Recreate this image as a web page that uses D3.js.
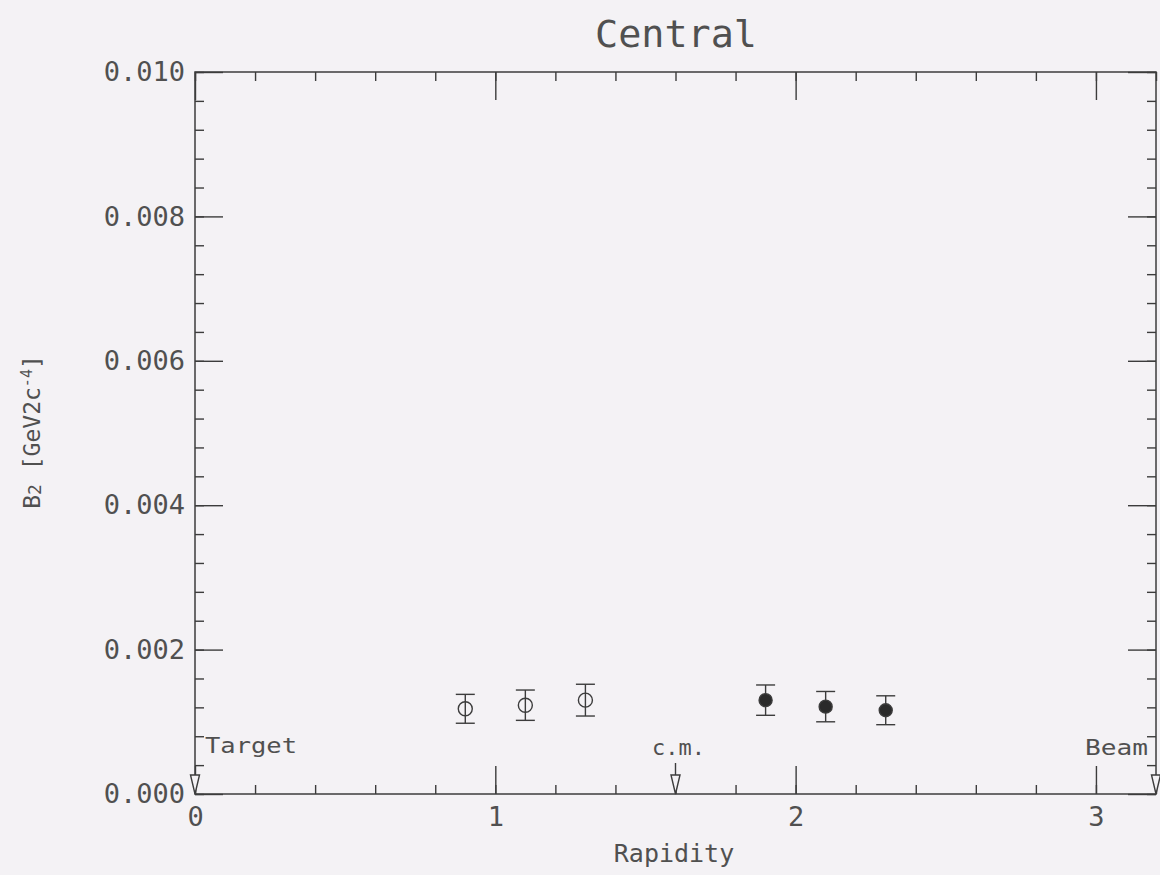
<!DOCTYPE html>
<html>
<head>
<meta charset="utf-8">
<script src="https://cdn.jsdelivr.net/npm/d3@7"></script>
<style>
  html, body { margin: 0; padding: 0; background: #f4f2f5; }
  svg { display: block; }
  text { font-family: "DejaVu Sans Mono", "Liberation Mono", monospace; fill: #505050; }
</style>
</head>
<body>
<svg id="chart" width="1160" height="875"></svg>
<script>
// B2 coefficient versus rapidity, central collisions
const rapidityOpen   = [0.9, 1.1, 1.3];
const b2Open         = [0.00118, 0.00123, 0.00130];
const errOpen        = [0.00020, 0.00021, 0.00022];

const rapidityFilled = [1.9, 2.1, 2.3];
const b2Filled       = [0.00130, 0.00121, 0.00116];
const errFilled      = [0.00021, 0.00021, 0.00020];

const xMajorTicks = [0, 1, 2, 3];
const xMinorTicks = d3.range(0, 3.2001, 0.2);
const yMajorTicks = [0, 0.002, 0.004, 0.006, 0.008, 0.010];
const yMinorTicks = d3.range(0, 0.01001, 0.0004);

const markerLabels = ["Target", "c.m.", "Beam"];
const markerRapidity = [0, 1.6, 3.2];

const ink = "#3c3c3c";
const svg = d3.select("#chart");
const m = { left: 195, top: 72, right: 1156, bottom: 794 };

const x = d3.scaleLinear().domain([0, 3.2]).range([m.left, m.right]);
const y = d3.scaleLinear().domain([0, 0.010]).range([m.bottom, m.top]);

const majorLen = 28, minorLen = 9;

function styleAxis(g) {
  g.select(".domain").remove();
  g.selectAll("line").attr("stroke", ink).attr("stroke-width", 1.4);
}

// minor ticks on all four sides
svg.append("g").attr("transform", `translate(0,${m.bottom})`)
  .call(d3.axisBottom(x).tickValues(xMinorTicks).tickSize(-minorLen).tickFormat(""))
  .call(styleAxis);
svg.append("g").attr("transform", `translate(0,${m.top})`)
  .call(d3.axisTop(x).tickValues(xMinorTicks).tickSize(-minorLen).tickFormat(""))
  .call(styleAxis);
svg.append("g").attr("transform", `translate(${m.left},0)`)
  .call(d3.axisLeft(y).tickValues(yMinorTicks).tickSize(-minorLen).tickFormat(""))
  .call(styleAxis);
svg.append("g").attr("transform", `translate(${m.right},0)`)
  .call(d3.axisRight(y).tickValues(yMinorTicks).tickSize(-minorLen).tickFormat(""))
  .call(styleAxis);

// major ticks with labels
const fmtY = d3.format(".3f");
const xb = svg.append("g").attr("transform", `translate(0,${m.bottom})`)
  .call(d3.axisBottom(x).tickValues(xMajorTicks).tickSize(-majorLen).tickPadding(13).tickFormat(d3.format("d")))
  .call(styleAxis);
xb.selectAll("text").attr("font-size", 27).attr("fill", "#505050")
  .style("font-family", '"DejaVu Sans Mono", monospace');

svg.append("g").attr("transform", `translate(0,${m.top})`)
  .call(d3.axisTop(x).tickValues(xMajorTicks).tickSize(-majorLen).tickFormat(""))
  .call(styleAxis);

const yl = svg.append("g").attr("transform", `translate(${m.left},0)`)
  .call(d3.axisLeft(y).tickValues(yMajorTicks).tickSize(-majorLen).tickPadding(10).tickFormat(fmtY))
  .call(styleAxis);
yl.selectAll("text").attr("font-size", 27).attr("fill", "#505050")
  .style("font-family", '"DejaVu Sans Mono", monospace');

svg.append("g").attr("transform", `translate(${m.right},0)`)
  .call(d3.axisRight(y).tickValues(yMajorTicks).tickSize(-majorLen).tickFormat(""))
  .call(styleAxis);

// frame
svg.append("rect")
  .attr("x", m.left).attr("y", m.top)
  .attr("width", m.right - m.left).attr("height", m.bottom - m.top)
  .attr("fill", "none").attr("stroke", ink).attr("stroke-width", 1.5);

// title and axis titles
svg.append("text").attr("x", 676).attr("y", 47)
  .attr("text-anchor", "middle").attr("font-size", 38)
  .attr("textLength", 162).attr("lengthAdjust", "spacingAndGlyphs")
  .text("Central");

svg.append("text").attr("x", 674).attr("y", 862)
  .attr("text-anchor", "middle").attr("font-size", 25)
  .text("Rapidity");

const yTitle = svg.append("text")
  .attr("transform", "translate(40,432) rotate(-90)")
  .attr("text-anchor", "middle").attr("font-size", 23);
yTitle.append("tspan").text("B");
yTitle.append("tspan").attr("font-size", 18).attr("dy", 1).text("2");
yTitle.append("tspan").attr("dy", -1).text(" [GeV2c");
yTitle.append("tspan").attr("font-size", 15).attr("dy", -8).text("-4");
yTitle.append("tspan").attr("dy", 8).text("]");

// Target / c.m. / Beam rapidity markers
const markerG = svg.append("g");
markerRapidity.forEach((r, i) => {
  const cx = x(r), tip = y(0), top = tip - 19;
  if (i === 1) {
    markerG.append("line").attr("x1", cx).attr("x2", cx)
      .attr("y1", tip - 31).attr("y2", top)
      .attr("stroke", ink).attr("stroke-width", 1.4);
  }
  markerG.append("path")
    .attr("d", `M${cx - 4.5},${top} L${cx + 4.5},${top} L${cx},${tip} Z`)
    .attr("fill", "#f4f2f5").attr("stroke", ink).attr("stroke-width", 1.4);
});
markerG.append("text").attr("x", x(markerRapidity[0]) + 10).attr("y", 753)
  .attr("font-size", 22).attr("textLength", 92).attr("lengthAdjust", "spacingAndGlyphs")
  .text(markerLabels[0]);
markerG.append("text").attr("x", x(markerRapidity[1]) + 3).attr("y", 755)
  .attr("text-anchor", "middle")
  .attr("font-size", 22).attr("textLength", 53).attr("lengthAdjust", "spacingAndGlyphs")
  .text(markerLabels[1]);
markerG.append("text").attr("x", x(markerRapidity[2]) - 8).attr("y", 755)
  .attr("text-anchor", "end")
  .attr("font-size", 22).attr("textLength", 63).attr("lengthAdjust", "spacingAndGlyphs")
  .text(markerLabels[2]);

// data points with error bars
function drawSeries(xs, vs, es, filled) {
  const data = xs.map((r, i) => ({ r, v: vs[i], e: es[i] }));
  const g = svg.append("g").selectAll("g").data(data).join("g");
  g.append("line")
    .attr("x1", d => x(d.r)).attr("x2", d => x(d.r))
    .attr("y1", d => y(d.v - d.e)).attr("y2", d => y(d.v + d.e))
    .attr("stroke", ink).attr("stroke-width", 1.4);
  [-1, 1].forEach(s => {
    g.append("line")
      .attr("x1", d => x(d.r) - 9.5).attr("x2", d => x(d.r) + 9.5)
      .attr("y1", d => y(d.v + s * d.e)).attr("y2", d => y(d.v + s * d.e))
      .attr("stroke", ink).attr("stroke-width", 1.4);
  });
  g.append("circle")
    .attr("cx", d => x(d.r)).attr("cy", d => y(d.v))
    .attr("r", filled ? 6.5 : 7)
    .attr("fill", filled ? "#2a2a2a" : "none")
    .attr("stroke", ink).attr("stroke-width", 1.4);
}
drawSeries(rapidityOpen, b2Open, errOpen, false);
drawSeries(rapidityFilled, b2Filled, errFilled, true);
</script>
</body>
</html>
